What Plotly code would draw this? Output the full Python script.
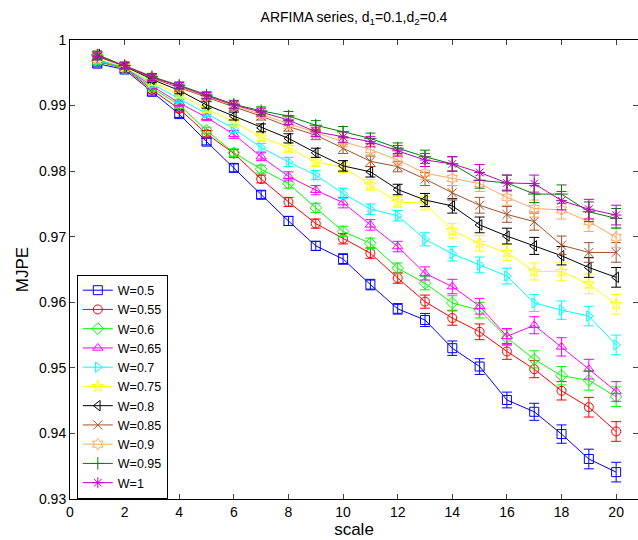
import plotly.graph_objects as go

scale = list(range(1, 21))

w05 = [0.9964, 0.9955, 0.9921, 0.9887, 0.9845, 0.9805, 0.9764, 0.9724, 0.9686, 0.9666,
       0.9627, 0.9590, 0.9573, 0.9530, 0.9502, 0.9451, 0.9433, 0.9399, 0.9361, 0.9341]
w055 = [0.9967, 0.9957, 0.9924, 0.9895, 0.9857, 0.9827, 0.9788, 0.9753, 0.9720, 0.9697,
        0.9675, 0.9637, 0.9601, 0.9576, 0.9555, 0.9525, 0.9498, 0.9465, 0.9440, 0.9403]
w06 = [0.9968, 0.9957, 0.9927, 0.9901, 0.9862, 0.9828, 0.9803, 0.9781, 0.9744, 0.9708,
       0.9690, 0.9652, 0.9629, 0.9599, 0.9588, 0.9546, 0.9513, 0.9488, 0.9481, 0.9456]
w065 = [0.9970, 0.9958, 0.9930, 0.9904, 0.9882, 0.9856, 0.9822, 0.9792, 0.9771, 0.9752,
        0.9718, 0.9685, 0.9644, 0.9624, 0.9594, 0.9548, 0.9565, 0.9532, 0.9498, 0.9464]
w07 = [0.9969, 0.9959, 0.9933, 0.9910, 0.9888, 0.9865, 0.9836, 0.9814, 0.9794, 0.9766,
       0.9742, 0.9732, 0.9696, 0.9674, 0.9657, 0.9640, 0.9599, 0.9588, 0.9579, 0.9535]
w075 = [0.9972, 0.9959, 0.9936, 0.9917, 0.9895, 0.9875, 0.9852, 0.9836, 0.9814, 0.9806,
        0.9779, 0.9753, 0.9751, 0.9709, 0.9690, 0.9676, 0.9647, 0.9647, 0.9628, 0.9597]
w08 = [0.9978, 0.9960, 0.9940, 0.9923, 0.9901, 0.9884, 0.9866, 0.9850, 0.9828, 0.9808,
       0.9799, 0.9772, 0.9756, 0.9747, 0.9718, 0.9701, 0.9686, 0.9671, 0.9653, 0.9638]
w085 = [0.9975, 0.9960, 0.9942, 0.9927, 0.9912, 0.9898, 0.9884, 0.9868, 0.9855, 0.9835,
        0.9815, 0.9807, 0.9788, 0.9767, 0.9748, 0.9734, 0.9723, 0.9687, 0.9676, 0.9676]
w09 = [0.9977, 0.9961, 0.9944, 0.9929, 0.9914, 0.9900, 0.9887, 0.9872, 0.9858, 0.9845,
       0.9833, 0.9817, 0.9797, 0.9789, 0.9781, 0.9760, 0.9743, 0.9741, 0.9723, 0.9699]
w095 = [0.9977, 0.9961, 0.9944, 0.9931, 0.9916, 0.9902, 0.9892, 0.9884, 0.9870, 0.9860,
        0.9850, 0.9835, 0.9822, 0.9811, 0.9786, 0.9782, 0.9765, 0.9765, 0.9738, 0.9728]
w1 = [0.9975, 0.9961, 0.9943, 0.9930, 0.9915, 0.9901, 0.9890, 0.9878, 0.9860, 0.9852,
      0.9845, 0.9831, 0.9817, 0.9811, 0.9798, 0.9782, 0.9781, 0.9755, 0.9742, 0.9733]

# error bar half-lengths by scale
err = [0.0005, 0.0005, 0.0005, 0.0005, 0.0005, 0.0006, 0.0006, 0.0007, 0.0007, 0.0008,
       0.0008, 0.0008, 0.0010, 0.0011, 0.0012, 0.0012, 0.0013, 0.0014, 0.0015, 0.0015]

names = ["W=0.5", "W=0.55", "W=0.6", "W=0.65", "W=0.7", "W=0.75",
         "W=0.8", "W=0.85", "W=0.9", "W=0.95", "W=1"]
series = [w05, w055, w06, w065, w07, w075, w08, w085, w09, w095, w1]
colors = ["#0000FF", "#FF0000", "#00FF00", "#FF00FF", "#00FFFF", "#FFFF00",
          "#000000", "#A0522D", "#FFA864", "#008000", "#BF00BF"]
symbols = ["square-open", "circle-open", "diamond-open", "triangle-up-open",
           "triangle-right-open", "star-open", "triangle-left-open", "x-thin-open",
           "hexagram-open", "cross-thin-open", "asterisk-open"]

yticks = [0.93, 0.94, 0.95, 0.96, 0.97, 0.98, 0.99, 1.0]
yticktext = ["0.93", "0.94", "0.95", "0.96", "0.97", "0.98", "0.99", "1"]
xticks = [0, 2, 4, 6, 8, 10, 12, 14, 16, 18, 20]

fig = go.Figure()
for name, ys, c, s in zip(names, series, colors, symbols):
    fig.add_trace(go.Scatter(
        x=scale, y=ys, name=name, mode="lines+markers",
        line=dict(color=c, width=1),
        marker=dict(symbol=s, size=9, color=c, line=dict(color=c, width=1)),
        error_y=dict(type="data", array=err, visible=True, color=c,
                     thickness=1, width=5),
    ))

font = "Liberation Sans, Arial, Helvetica, sans-serif"
fig.update_layout(
    width=638, height=540,
    margin=dict(l=70, r=0, t=40, b=41),
    paper_bgcolor="white", plot_bgcolor="white",
    font=dict(family=font, size=14, color="black"),
    title=dict(text="ARFIMA series, d<sub>1</sub>=0.1,d<sub>2</sub>=0.4",
               x=0.5, xref="paper", xanchor="center", y=0.968, yanchor="middle",
               font=dict(size=14)),
    showlegend=True,
    legend=dict(x=0.012, y=0.489, xanchor="left", yanchor="top",
                bordercolor="black", borderwidth=1, bgcolor="white",
                font=dict(size=12.5), tracegroupgap=0, itemwidth=30),
    xaxis=dict(range=[0, 20.8], tickvals=xticks, ticks="inside", ticklen=5,
               showline=True, linecolor="black", linewidth=1, mirror="allticks",
               showgrid=False, zeroline=False,
               title=dict(text="scale", standoff=4)),
    yaxis=dict(range=[0.93, 1.0], tickvals=yticks, ticktext=yticktext,
               ticks="inside", ticklen=5,
               showline=True, linecolor="black", linewidth=1, mirror="allticks",
               showgrid=False, zeroline=False,
               title=dict(text="MJPE", standoff=6)),
)

fig.write_html("out.html")
